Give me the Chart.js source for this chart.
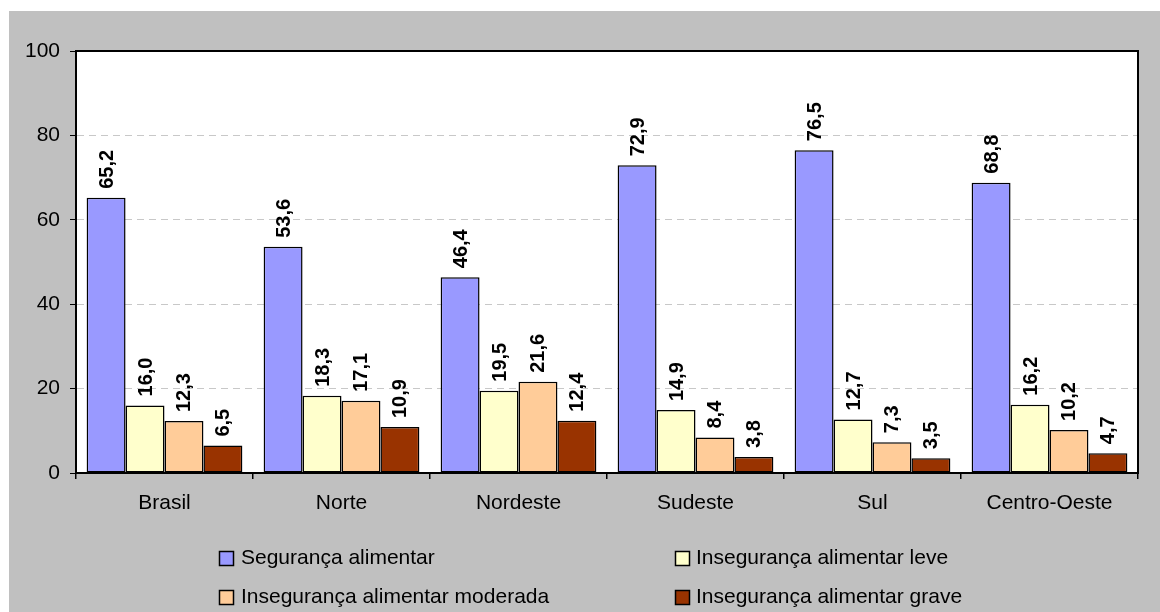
<!DOCTYPE html>
<html>
<head>
<meta charset="utf-8">
<script src="https://cdn.jsdelivr.net/npm/chart.js@4"></script>
<style>
    html, body { margin: 0; padding: 0; background: #ffffff; }
    #wrap { width: 1160px; height: 612px; }
</style>
</head>
<body>
<div id="wrap"><canvas id="foodChart" width="1160" height="612"></canvas></div>
<script>
// Regions and series (percent)
const regions = ['Brasil', 'Norte', 'Nordeste', 'Sudeste', 'Sul', 'Centro-Oeste'];
const seguranca = [65.2, 53.6, 46.4, 72.9, 76.5, 68.8];
const insegLeve = [16.0, 18.3, 19.5, 14.9, 12.7, 16.2];
const insegModerada = [12.3, 17.1, 21.6, 8.4, 7.3, 10.2];
const insegGrave = [6.5, 10.9, 12.4, 3.8, 3.5, 4.7];
const seriesNames = [
    'Segurança alimentar',
    'Insegurança alimentar leve',
    'Insegurança alimentar moderada',
    'Insegurança alimentar grave'
];
const yTicks = [0, 20, 40, 60, 80, 100];

const FONT = '"Liberation Sans", Arial, sans-serif';
const colors = ['#9999FF', '#FFFFCC', '#FFCC99', '#993300'];

// Background: white page, grey chart area, white plot area with black frame
const backdrop = {
    id: 'backdrop',
    beforeDraw(chart) {
        const { ctx, chartArea: a } = chart;
        ctx.save();
        ctx.fillStyle = '#ffffff';
        ctx.fillRect(0, 0, chart.width, chart.height);
        ctx.fillStyle = '#c0c0c0';
        ctx.fillRect(9, 11, chart.width - 9, chart.height - 11);
        ctx.fillStyle = '#ffffff';
        ctx.fillRect(a.left, a.top, a.right - a.left, a.bottom - a.top);
        ctx.restore();
    },
    beforeDatasetsDraw(chart) {
        const { ctx, chartArea: a } = chart;
        ctx.save();
        ctx.strokeStyle = '#000000';
        ctx.lineWidth = 2;
        ctx.strokeRect(a.left, a.top, a.right - a.left, a.bottom - a.top);
        ctx.restore();
    }
};

// Vertical value labels above each bar
const valueLabels = {
    id: 'valueLabels',
    afterDatasetsDraw(chart) {
        const ctx = chart.ctx;
        ctx.save();
        ctx.font = 'bold 20px ' + FONT;
        ctx.fillStyle = '#000000';
        ctx.textAlign = 'left';
        ctx.textBaseline = 'middle';
        chart.data.datasets.forEach((ds, i) => {
            chart.getDatasetMeta(i).data.forEach((bar, j) => {
                const txt = ds.data[j].toFixed(1).replace('.', ',');
                ctx.save();
                ctx.translate(bar.x + 1, bar.y - 9);
                ctx.rotate(-Math.PI / 2);
                ctx.fillText(txt, 0, 0);
                ctx.restore();
            });
        });
        ctx.restore();
    }
};

// Two-column legend under the axis
const gridLegend = {
    id: 'gridLegend',
    afterDraw(chart) {
        const ctx = chart.ctx;
        const cols = [219, 675];
        const rows = [551, 590];
        ctx.save();
        ctx.font = '21px ' + FONT;
        ctx.textBaseline = 'alphabetic';
        chart.data.datasets.forEach((ds, i) => {
            const x = cols[i % 2];
            const y = rows[Math.floor(i / 2)];
            ctx.fillStyle = ds.backgroundColor;
            ctx.fillRect(x, y, 15, 15);
            ctx.strokeStyle = '#000000';
            ctx.lineWidth = 1.5;
            ctx.strokeRect(x + 0.5, y + 0.5, 14, 14);
            ctx.fillStyle = '#000000';
            ctx.fillText(ds.label, x + (i % 2 ? 21 : 22), y + 12.5);
        });
        ctx.restore();
    }
};

const seriesData = [seguranca, insegLeve, insegModerada, insegGrave];

new Chart(document.getElementById('foodChart'), {
    type: 'bar',
    data: {
        labels: regions,
        datasets: seriesData.map((d, i) => ({
            label: seriesNames[i],
            data: d,
            backgroundColor: colors[i],
            borderColor: '#000000',
            borderWidth: 1.5,
            borderSkipped: false,
            categoryPercentage: 0.88,
            barPercentage: 1.0
        }))
    },
    options: {
        responsive: false,
        animation: false,
        devicePixelRatio: 1,
        layout: { padding: { top: 51, right: 22, left: 0, bottom: 0 } },
        plugins: {
            legend: { display: false },
            tooltip: { enabled: false }
        },
        scales: {
            x: {
                grid: {
                    offset: true,
                    drawOnChartArea: false,
                    color: '#000000',
                    tickColor: '#000000',
                    tickLength: 6,
                    lineWidth: 1.5
                },
                border: { display: true, color: '#000000', width: 2 },
                ticks: {
                    color: '#000000',
                    font: { family: FONT, size: 21 },
                    padding: 12,
                    maxRotation: 0
                },
                afterFit(scale) { scale.height = 139; }
            },
            y: {
                min: 0,
                max: 100,
                afterBuildTicks(scale) {
                    scale.ticks = yTicks.map(v => ({ value: v }));
                },
                grid: {
                    color: ctx => (ctx.tick && (ctx.tick.value === 0 || ctx.tick.value === 100)) ? 'rgba(0,0,0,0)' : '#c8c8c8',
                    tickColor: '#000000',
                    tickLength: 6,
                    lineWidth: 1
                },
                border: { display: true, color: '#000000', width: 2, dash: [7, 5] },
                ticks: {
                    color: '#000000',
                    font: { family: FONT, size: 21 },
                    padding: 10
                },
                afterFit(scale) { scale.width = 76; }
            }
        }
    },
    plugins: [backdrop, valueLabels, gridLegend]
});
</script>
</body>
</html>
